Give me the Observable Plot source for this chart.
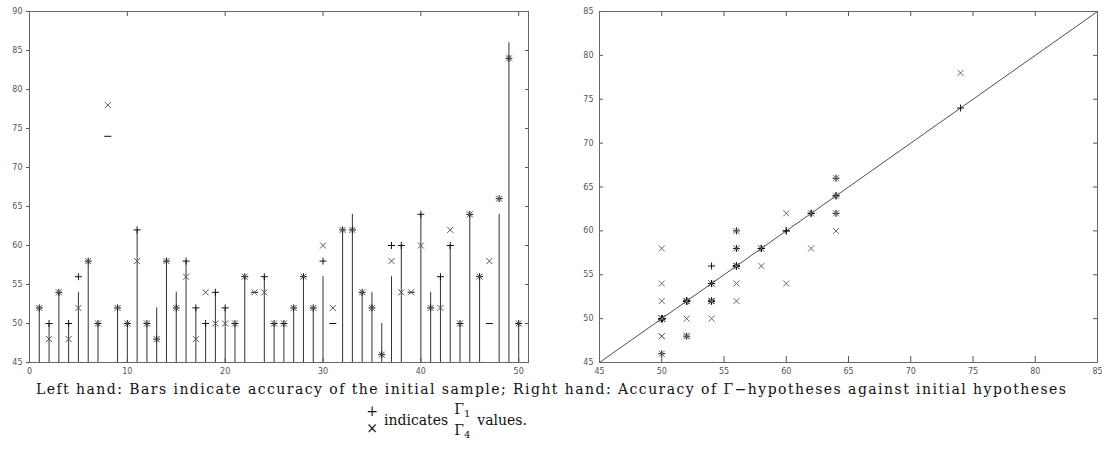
<!DOCTYPE html>
<html><head><meta charset="utf-8">
<script src="https://cdn.jsdelivr.net/npm/d3@7"></script>
<script src="https://cdn.jsdelivr.net/npm/@observablehq/plot@0.6"></script>
<style>
body{margin:0;background:#fff;}
#wrap{position:relative;width:1102px;height:451px;overflow:hidden;background:#fff;}
#left,#right{position:absolute;top:0;}
#left{left:0}
#right{left:570px}
#notes{position:absolute;left:0;top:0;}
</style></head><body>
<div id="wrap"><div id="left"></div><div id="right"></div><svg id="notes" width="1102" height="451"></svg></div>
<script>
// ---- data ----
const sample = d3.range(1, 51);
const initial = [52,50,54,50,54,58,50,74,52,50, 62,50,52,58,54,58,52,50,54,52, 50,56,54,56,50,50,52,56,52,56, 50,62,64,54,54,50,56,60,54,64, 54,56,60,50,64,56,50,64,86,50];
const gamma1  = [52,50,54,50,56,58,50,74,52,50, 62,50,48,58,52,58,52,50,54,52, 50,56,54,56,50,50,52,56,52,58, 50,62,62,54,52,46,60,60,54,64, 52,56,60,50,64,56,50,66,84,50];
const gamma4  = [52,48,54,48,52,58,50,78,52,50, 58,50,48,58,52,56,48,54,50,50, 50,56,54,54,50,50,52,56,52,60, 52,62,62,54,52,46,58,54,54,60, 52,52,62,50,64,56,58,66,84,50];
// bars whose line does not show in the reference picture
const undrawnBars = [8, 23, 31, 39, 47];
const leftXTicks = [0, 10, 20, 30, 40, 50];
const leftYTicks = [45, 50, 55, 60, 65, 70, 75, 80, 85, 90];
const rightTicks = [45, 50, 55, 60, 65, 70, 75, 80, 85];
const captionText = "Left hand: Bars indicate accuracy of the initial sample; Right hand: Accuracy of \u0393\u2212hypotheses against initial hypotheses";
const legendMarks = ["+", "\u00d7"];
const legendSeries = ["1", "4"];

const rows = sample.map((s, i) => ({s, init: initial[i], g1: gamma1[i], g4: gamma4[i], drawn: !undrawnBars.includes(s)}));

// ---- marker glyphs ----
const plusSym = {draw(c, size) { const r = Math.sqrt(size / Math.PI); c.moveTo(-r, 0); c.lineTo(r, 0); c.moveTo(0, -r); c.lineTo(0, r); }};
const timesSym = {draw(c, size) { const r = Math.sqrt(size / Math.PI); c.moveTo(-r, -r); c.lineTo(r, r); c.moveTo(-r, r); c.lineTo(r, -r); }};
const dashSym = {draw(c, size) { const r = Math.sqrt(size / Math.PI); c.moveTo(-r, 0); c.lineTo(r, 0); }};

const tickFont = {fontSize: 8, fontFamily: "DejaVu Sans", color: "#555"};
const blank = () => "";

// ---- left panel ----
const left = Plot.plot({
  width: 530, height: 380,
  marginLeft: 29, marginRight: 2, marginTop: 11, marginBottom: 18,
  style: {fontFamily: "DejaVu Sans", background: "#fff"},
  x: {domain: [0, 51]},
  y: {domain: [leftYTicks[0], leftYTicks[leftYTicks.length - 1]]},
  marks: [
    Plot.ruleX(rows.filter(d => d.drawn), {x: "s", y1: leftYTicks[0], y2: "init", stroke: "#333", strokeWidth: 1}),
    Plot.dot(rows.filter(d => d.drawn), {x: "s", y: "g1", symbol: plusSym, r: 3.5, fill: "none", stroke: "#111", strokeWidth: 1}),
    Plot.dot(rows.filter(d => !d.drawn), {x: "s", y: "g1", symbol: dashSym, r: 3.5, fill: "none", stroke: "#111", strokeWidth: 1}),
    Plot.dot(rows, {x: "s", y: "g4", symbol: timesSym, r: 3, fill: "none", stroke: "#555", strokeWidth: 1}),
    Plot.axisY({anchor: "left", ticks: leftYTicks, tickSize: 3, tickPadding: 4, label: null, ...tickFont}),
    Plot.axisY({anchor: "right", ticks: leftYTicks, tickSize: -4, tickFormat: blank, label: null, ...tickFont}),
    Plot.axisX({anchor: "bottom", ticks: leftXTicks, tickSize: -4, tickPadding: 10, label: null, ...tickFont}),
    Plot.axisX({anchor: "top", ticks: leftXTicks, tickSize: -4, tickFormat: blank, label: null, ...tickFont}),
    Plot.frame({stroke: "#666"})
  ]
});
document.getElementById("left").append(left);

// ---- right panel ----
const inRange = rows.filter(d => d.init <= rightTicks[rightTicks.length - 1]);
const right = Plot.plot({
  width: 532, height: 380,
  marginLeft: 29, marginRight: 5, marginTop: 11, marginBottom: 18,
  style: {fontFamily: "DejaVu Sans", background: "#fff"},
  x: {domain: [rightTicks[0], rightTicks[rightTicks.length - 1]]},
  y: {domain: [rightTicks[0], rightTicks[rightTicks.length - 1]]},
  marks: [
    Plot.line(rightTicks, {x: d => d, y: d => d, stroke: "#222", strokeWidth: 0.8}),
    Plot.dot(inRange, {x: "init", y: "g1", symbol: plusSym, r: 3.5, fill: "none", stroke: "#111", strokeWidth: 1}),
    Plot.dot(inRange, {x: "init", y: "g4", symbol: timesSym, r: 3, fill: "none", stroke: "#666", strokeWidth: 1}),
    Plot.axisY({anchor: "left", ticks: rightTicks, tickSize: -4, tickPadding: 10, label: null, ...tickFont}),
    Plot.axisY({anchor: "right", ticks: rightTicks, tickSize: -5, tickFormat: blank, label: null, ...tickFont}),
    Plot.axisX({anchor: "bottom", ticks: rightTicks, tickSize: -6, tickPadding: 12, label: null, ...tickFont}),
    Plot.axisX({anchor: "top", ticks: rightTicks, tickSize: -4, tickFormat: blank, label: null, ...tickFont}),
    Plot.frame({stroke: "#666"})
  ]
});
document.getElementById("right").append(right);

// ---- caption and legend ----
const notes = d3.select("#notes");
const serif = "'DejaVu Serif', 'Liberation Serif', serif";
notes.append("text").attr("x", 551).attr("y", 394).attr("text-anchor", "middle")
  .attr("font-family", serif).attr("font-size", 14).attr("fill", "#111")
  .attr("textLength", 1030).attr("lengthAdjust", "spacing").text(captionText);

const lg = notes.append("g").attr("font-family", serif).attr("font-size", 14).attr("fill", "#111");
lg.append("text").attr("x", 372).attr("y", 416).attr("text-anchor", "middle").text(legendMarks[0]);
lg.append("text").attr("x", 372).attr("y", 433).attr("text-anchor", "middle").text(legendMarks[1]);
const ind = lg.append("text").attr("x", 384).attr("y", 425).text("indicates");
let gx = 384 + ind.node().getComputedTextLength() + 6;
let gw = 0;
legendSeries.forEach((k, i) => {
  const t = lg.append("text").attr("x", gx).attr("y", i === 0 ? 414 : 435);
  t.append("tspan").text("\u0393");
  t.append("tspan").attr("font-size", 10).attr("dy", 3).text(k);
  gw = Math.max(gw, t.node().getComputedTextLength());
});
lg.append("text").attr("x", gx + gw + 7).attr("y", 425).text("values.");
</script>
</body></html>
